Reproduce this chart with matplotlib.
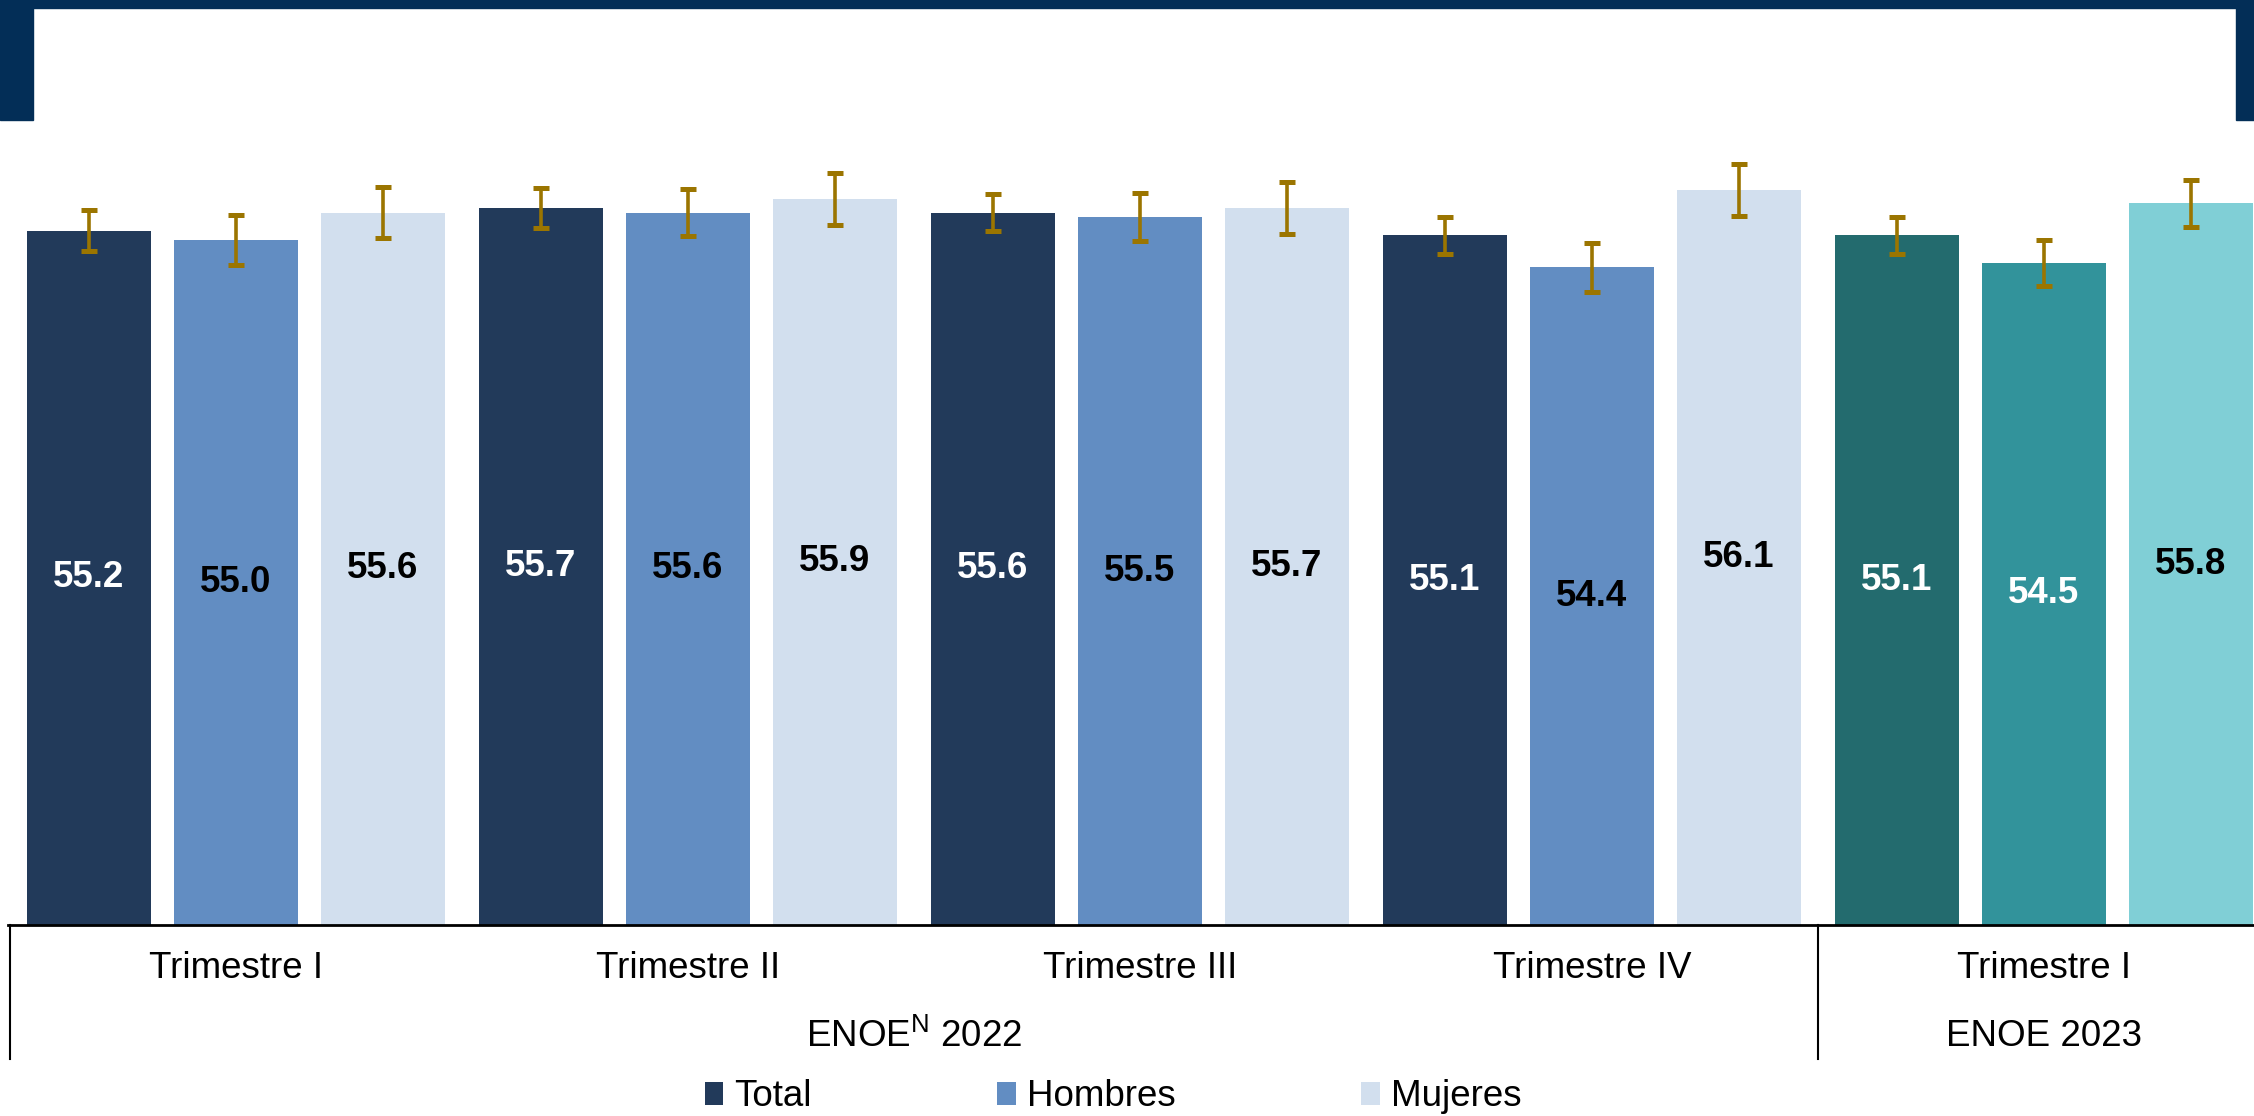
import matplotlib.pyplot as plt
from matplotlib.patches import Rectangle, Patch
import numpy as np

plt.rcParams['font.family'] = ['Liberation Sans', 'DejaVu Sans']
plt.rcParams['mathtext.fontset'] = 'custom'
plt.rcParams['mathtext.rm'] = 'Liberation Sans'

# data
periods = ["Trimestre I", "Trimestre II", "Trimestre III", "Trimestre IV", "Trimestre I"]
surveys = ["ENOE$^{\\mathrm{N}}$ 2022", "ENOE 2023"]
series = ["Total", "Hombres", "Mujeres"]
total = [55.2, 55.7, 55.6, 55.1, 55.1]
hombres = [55.0, 55.6, 55.5, 54.4, 54.5]
mujeres = [55.6, 55.9, 55.7, 56.1, 55.8]
err_total = [0.45, 0.43, 0.41, 0.41, 0.41]
err_hombres = [0.55, 0.52, 0.52, 0.54, 0.50]
err_mujeres = [0.56, 0.57, 0.57, 0.57, 0.51]

# style
colors_2022 = ["#223a5a", "#628dc2", "#d2dfee"]
colors_2023 = ["#236b6e", "#32939b", "#80cfd6"]
label_colors = [["white"] * 5,
                ["black"] * 4 + ["white"],
                ["black"] * 5]
err_color = "#9b7500"
frame_color = "#032e57"
ymin = 40
fs = 26.5

W, H = 2254, 1116
fig = plt.figure(figsize=(W / 100, H / 100), dpi=100)
ax = fig.add_axes([8 / W, (H - 925) / H, (W - 8) / W, 822 / H])

x = np.arange(len(periods))
step = 0.325
width = 0.274
vals = [total, hombres, mujeres]
errs = [err_total, err_hombres, err_mujeres]
n2022 = 4

for i in range(3):
    xs = x + (i - 1) * step
    cols = [colors_2022[i]] * n2022 + [colors_2023[i]] * (len(periods) - n2022)
    ax.bar(xs, np.array(vals[i]) - ymin, width, bottom=ymin, color=cols, zorder=2)
    ax.errorbar(xs, vals[i], yerr=errs[i], fmt='none', ecolor=err_color,
                elinewidth=2.6, capsize=6, capthick=3.6, zorder=3)
    for j in range(len(periods)):
        ax.text(xs[j], (ymin + vals[i][j]) / 2, f"{vals[i][j]:.1f}",
                ha='center', va='center', fontsize=fs, fontweight='bold',
                color=label_colors[i][j], zorder=4)

ax.set_xlim(-0.504, 4.465)
ax.set_ylim(ymin, 58)
for s in ['top', 'right', 'left']:
    ax.spines[s].set_visible(False)
ax.spines['bottom'].set_linewidth(2)
ax.set_xticks([])
ax.set_yticks([])

# category labels
for j, p in enumerate(periods):
    ax.annotate(p, xy=(x[j], 0), xycoords=ax.get_xaxis_transform(),
                xytext=(0, -31), textcoords='offset points',
                ha='center', va='center', fontsize=fs)
survey_centers = [np.mean(x[:n2022]), np.mean(x[n2022:])]
for c, s in zip(survey_centers, surveys):
    ax.annotate(s, xy=(c, 0), xycoords=ax.get_xaxis_transform(),
                xytext=(0, -80), textcoords='offset points',
                ha='center', va='center', fontsize=fs)

# separators
sep_len = -(1059 - 925) / 822
for sx in [-0.5, n2022 - 0.5]:
    ax.plot([sx, sx], [0, sep_len], color='black', lw=1.5,
            transform=ax.get_xaxis_transform(), clip_on=False)

# legend
handles = [Patch(facecolor=c) for c in colors_2022]
fig.legend(handles, series, loc='center', bbox_to_anchor=(1113 / W, 1 - 1097 / H),
           ncol=3, frameon=False, fontsize=fs, handlelength=0.5,
           handleheight=0.6, handletextpad=0.3, columnspacing=5.05)

# header frame
fig.patches.append(Rectangle((0, 1 - 8 / H), 1, 8 / H, transform=fig.transFigure,
                             color=frame_color, zorder=0))
fig.patches.append(Rectangle((0, 1 - 120 / H), 33 / W, 120 / H, transform=fig.transFigure,
                             color=frame_color, zorder=0))
fig.patches.append(Rectangle((2236 / W, 1 - 120 / H), 18 / W, 120 / H, transform=fig.transFigure,
                             color=frame_color, zorder=0))

fig.savefig("out.png", dpi=100)
